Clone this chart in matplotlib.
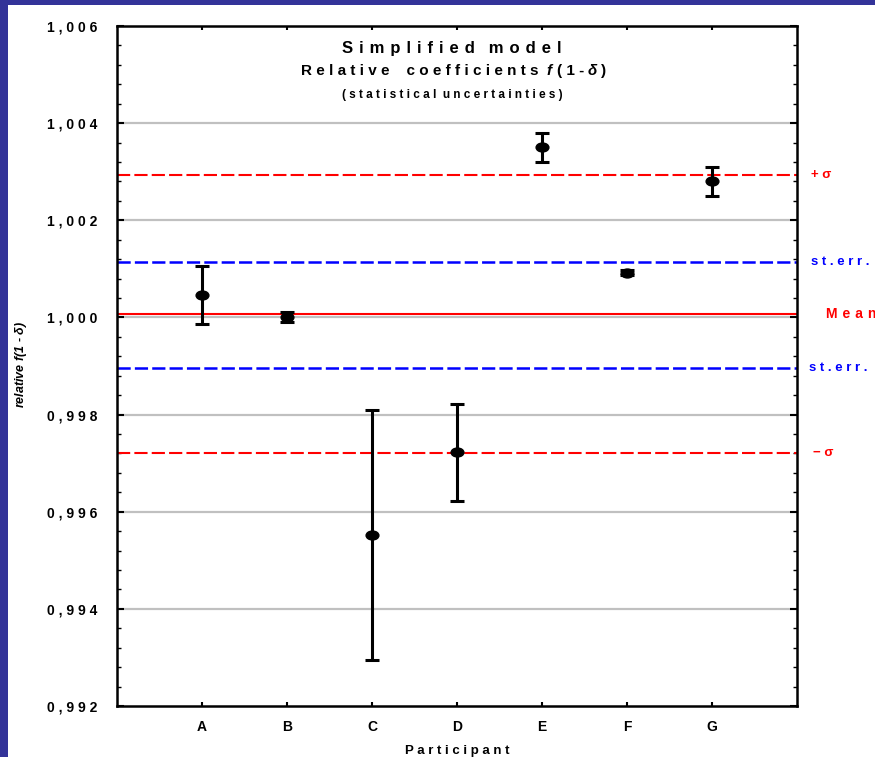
import numpy as np
import matplotlib
matplotlib.use('Agg')
import matplotlib.pyplot as plt
from matplotlib.path import Path
from matplotlib.patches import Rectangle
from matplotlib.ticker import MultipleLocator

participants = ['A', 'B', 'C', 'D', 'E', 'F', 'G']
values = [1.00046, 1.00001, 0.99552, 0.99722, 1.00350, 1.00092, 1.00280]
errors = [0.00060, 0.00010, 0.00258, 0.00100, 0.00030, 0.00005, 0.00030]

mean_value = 1.00007
plus_sigma = 1.00293
minus_sigma = 0.99721
stderr_hi = 1.00114
stderr_lo = 0.99896

y_ticks = [0.992, 0.994, 0.996, 0.998, 1.000, 1.002, 1.004, 1.006]


def spaced(s, sep=' ', word_sep='   '):
    # wide letter spacing like the original chart
    return word_sep.join(sep.join(w) for w in s.split(' '))


def main():
    plt.rcParams['font.family'] = ['Liberation Sans', 'DejaVu Sans']
    plt.rcParams['font.weight'] = 'bold'
    plt.rcParams['mathtext.fontset'] = 'custom'
    plt.rcParams['mathtext.rm'] = 'Liberation Sans:bold'
    plt.rcParams['mathtext.it'] = 'Liberation Sans:italic:bold'
    plt.rcParams['lines.scale_dashes'] = False

    fig = plt.figure(figsize=(8.75, 7.57), dpi=100, facecolor='#333399')
    fig.patches.append(Rectangle((8 / 875, 0), 1, 1 - 5 / 757, transform=fig.transFigure,
                                 facecolor='white', edgecolor='none', zorder=-10))
    ax = fig.add_axes([117 / 875, 1 - 706 / 757, 680 / 875, 680 / 757])
    ax.set_zorder(1)

    x = np.arange(1, len(participants) + 1)
    ax.set_xlim(0, 8)
    ax.set_ylim(0.992, 1.006)

    # gray grid at major ticks
    for v in y_ticks[1:-1]:
        ax.axhline(v, color='#c0c0c0', lw=1.6, zorder=1)

    ax.axhline(mean_value, color='#ff0000', lw=1.5, zorder=2)
    for v in (plus_sigma, minus_sigma):
        ax.axhline(v, color='#ff0000', lw=1.5, dashes=(9.5, 3), zorder=2)
    for v in (stderr_hi, stderr_lo):
        ax.axhline(v, color='#0000ff', lw=1.8, dashes=(9.5, 3), zorder=2)

    circ = Path.unit_circle()
    ellipse = Path(circ.vertices * [1.0, 0.7], circ.codes)
    ax.errorbar(x, values, yerr=errors, fmt='none', ecolor='black', elinewidth=2.2,
                capsize=4.7, capthick=2.2, zorder=3)
    ax.plot(x, values, linestyle='none', marker=ellipse, markersize=9.2,
            color='black', zorder=4)

    ax.set_xticks(x)
    ax.set_xticklabels(participants, fontsize=10, fontweight='bold')
    ax.set_yticks(y_ticks)
    ax.set_yticklabels([spaced(f'{v:.3f}'.replace('.', ',')) for v in y_ticks],
                       fontsize=10, fontweight='bold')
    ax.yaxis.set_minor_locator(MultipleLocator(0.0004))
    ax.tick_params(axis='y', which='major', direction='in', length=5, width=1.5,
                   right=True, pad=14)
    ax.tick_params(axis='y', which='minor', direction='in', length=3, width=1.0, right=True)
    ax.tick_params(axis='x', which='major', direction='in', length=3, width=1.5,
                   top=True, pad=10)
    for sp in ax.spines.values():
        sp.set_linewidth(1.8)

    ax.set_xlabel(spaced('Participant'), fontsize=9.5, fontweight='bold', labelpad=8)
    fig.text(21 / 875, 1 - 364 / 757, r'relative $f$(1 - $\delta$)', rotation=90,
             ha='center', va='center', fontsize=9, fontweight='bold', style='italic')

    # title block
    tx = (452 - 117) / 680
    ax.text(tx, 1 - (48 - 26) / 680, spaced('Simplified model', sep=' \u200a'),
            transform=ax.transAxes, ha='center', va='center', fontsize=12,
            fontweight='bold')
    # second title line, built piece by piece so f and delta can be italic
    pieces = [(spaced('Relative coefficients', word_sep='    '), 'normal', 0),
              ('f', 'italic', 8),
              ('( 1 -', 'normal', 5),
              ('δ', 'italic', 4),
              (')', 'normal', 4)]
    prev = fig.text(301 / 875, 1 - 75 / 757, pieces[0][0], ha='left', va='baseline',
                    fontsize=11, fontweight='bold')
    for txt, st, gap in pieces[1:]:
        prev = ax.annotate(txt, xy=(1, 0), xycoords=prev, xytext=(gap, 0),
                           textcoords='offset pixels', ha='left', va='bottom',
                           fontsize=11, fontweight='bold', style=st)
    ax.text(tx, 1 - (95 - 26) / 680, spaced('(statistical uncertainties)', word_sep='  '),
            transform=ax.transAxes, ha='center', va='center', fontsize=8.5,
            fontweight='bold')

    # labels to the right of the frame
    trans = ax.get_yaxis_transform()
    side = [(811, plus_sigma, '+ σ', '#ff0000', 9.5),
            (811, stderr_hi, spaced('st.err.'), '#0000ff', 9.5),
            (826, mean_value, spaced('Mean', sep=' \u200a'), '#ff0000', 10),
            (809, stderr_lo, spaced('st.err.'), '#0000ff', 9.5),
            (813, minus_sigma, '− σ', '#ff0000', 9.5)]
    for px, yv, label, col, fs in side:
        ax.text((px - 117) / 680, yv, label, transform=trans, ha='left', va='center',
                fontsize=fs, fontweight='bold', color=col, clip_on=False)

    fig.savefig('out.png', dpi=100, facecolor=fig.get_facecolor())


if __name__ == "__main__":
    main()
